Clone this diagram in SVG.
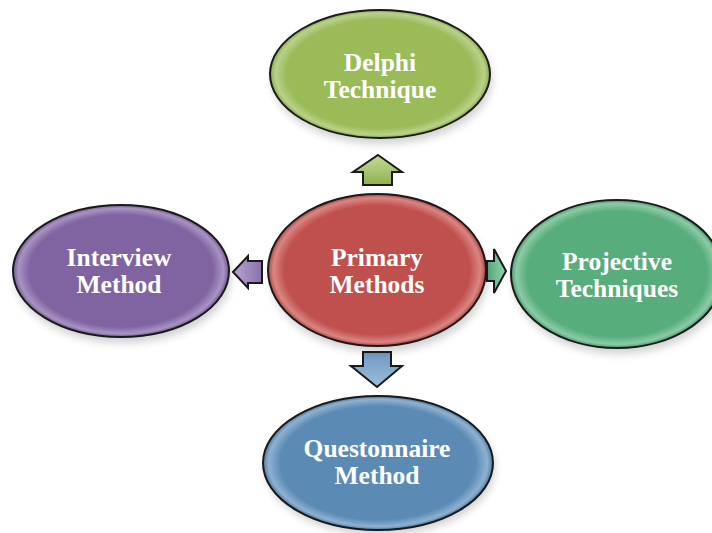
<svg xmlns="http://www.w3.org/2000/svg" width="712" height="533" viewBox="0 0 712 533">
<defs>
<style>
.node{stroke:#1a1a1a;stroke-width:2}
.lbl{font-family:"Liberation Serif","Times New Roman",serif;font-weight:bold;font-size:25.5px;fill:#ffffff;text-anchor:middle}
.arr{stroke:#1a1a1a;stroke-width:2;stroke-linejoin:miter}
.shadow{fill:#000;opacity:0.18}
</style>
<filter id="blur" x="-20%" y="-20%" width="140%" height="140%"><feGaussianBlur stdDeviation="4"/></filter>
<radialGradient id="gGreen" cx="50%" cy="50%" r="50%"><stop offset="0.85" stop-color="#9bbb59"/><stop offset="0.95" stop-color="#b9d28a"/><stop offset="1" stop-color="#8aa84c"/></radialGradient>
<radialGradient id="gRed" cx="50%" cy="50%" r="50%"><stop offset="0.85" stop-color="#c0504d"/><stop offset="0.95" stop-color="#d98683"/><stop offset="1" stop-color="#ad4643"/></radialGradient>
<radialGradient id="gPurple" cx="50%" cy="50%" r="50%"><stop offset="0.85" stop-color="#8064a2"/><stop offset="0.95" stop-color="#a893c2"/><stop offset="1" stop-color="#72598f"/></radialGradient>
<radialGradient id="gTeal" cx="50%" cy="50%" r="50%"><stop offset="0.85" stop-color="#58ad7d"/><stop offset="0.95" stop-color="#8ccba6"/><stop offset="1" stop-color="#4c9a6e"/></radialGradient>
<radialGradient id="gBlue" cx="50%" cy="50%" r="50%"><stop offset="0.85" stop-color="#5b8bb5"/><stop offset="0.95" stop-color="#8fb1d1"/><stop offset="1" stop-color="#4f7ca3"/></radialGradient>
<linearGradient id="aGreen" x1="0" y1="0" x2="0" y2="1"><stop offset="0" stop-color="#c4db9a"/><stop offset="1" stop-color="#8fb050"/></linearGradient>
<linearGradient id="aPurple" x1="0" y1="0" x2="1" y2="0"><stop offset="0" stop-color="#b7a6d0"/><stop offset="1" stop-color="#8a70ad"/></linearGradient>
<linearGradient id="aTeal" x1="0" y1="0" x2="1" y2="0"><stop offset="0" stop-color="#5aae7e"/><stop offset="1" stop-color="#8fd0aa"/></linearGradient>
<linearGradient id="aBlue" x1="0" y1="0" x2="0" y2="1"><stop offset="0" stop-color="#6f9ac2"/><stop offset="1" stop-color="#9dbddb"/></linearGradient>
</defs>
<rect width="712" height="533" fill="#ffffff"/>
<g id="connectors">
<polygon class="arr" fill="url(#aGreen)" points="378,155 402,172 392,172 392,185 363,185 363,172 353,172"/>
<polygon class="arr" fill="url(#aPurple)" points="233,272 248,256 248,261 262,261 262,283 248,283 248,288"/>
<polygon class="arr" fill="url(#aTeal)" points="506,271 494,249 494,261 487,261 487,281 494,281 494,293"/>
<polygon class="arr" fill="url(#aBlue)" points="377,387 402,366 391,366 391,352 363,352 363,366 351,366"/>
</g>
<g id="delphi">
<ellipse class="shadow" cx="382" cy="80" rx="110" ry="64" filter="url(#blur)"/>
<ellipse class="node" cx="380" cy="74" rx="110" ry="64" fill="url(#gGreen)"/>
<text class="lbl" x="380" y="71">Delphi</text>
<text class="lbl" x="380" y="98">Technique</text>
</g>
<g id="primary">
<ellipse class="shadow" cx="379" cy="276" rx="109" ry="76" filter="url(#blur)"/>
<ellipse class="node" cx="377" cy="270" rx="109" ry="76" fill="url(#gRed)"/>
<text class="lbl" x="377" y="266">Primary</text>
<text class="lbl" x="377" y="293">Methods</text>
</g>
<g id="interview">
<ellipse class="shadow" cx="123" cy="277" rx="108" ry="66" filter="url(#blur)"/>
<ellipse class="node" cx="121" cy="271" rx="108" ry="66" fill="url(#gPurple)"/>
<text class="lbl" x="119" y="266">Interview</text>
<text class="lbl" x="119" y="293">Method</text>
</g>
<g id="projective">
<ellipse class="shadow" cx="619" cy="280" rx="106" ry="74" filter="url(#blur)"/>
<ellipse class="node" cx="617" cy="274" rx="106" ry="74" fill="url(#gTeal)"/>
<text class="lbl" x="617" y="270">Projective</text>
<text class="lbl" x="617" y="297">Techniques</text>
</g>
<g id="questionnaire">
<ellipse class="shadow" cx="380" cy="468" rx="115" ry="67" filter="url(#blur)"/>
<ellipse class="node" cx="378" cy="463" rx="115" ry="67" fill="url(#gBlue)"/>
<text class="lbl" x="377" y="457">Questonnaire</text>
<text class="lbl" x="377" y="484">Method</text>
</g>
</svg>
